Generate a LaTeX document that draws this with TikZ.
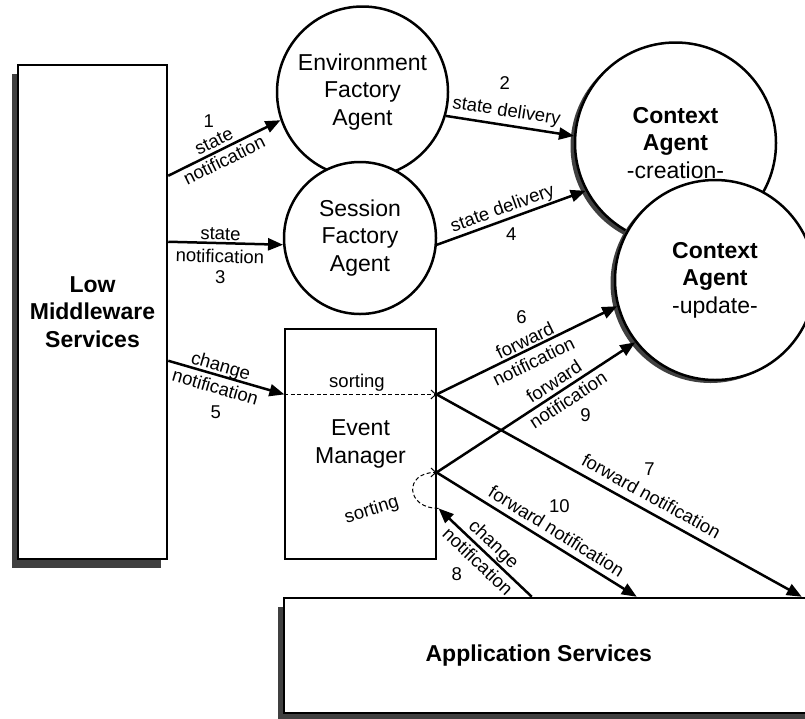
\documentclass[tikz,border=0pt]{standalone}
\usepackage{fontspec}
\setmainfont{Liberation Sans}
\usetikzlibrary{arrows.meta,shadows,calc}

\begin{document}
\begin{tikzpicture}[x=1pt,y=-1pt,
  thickline/.style={line width=2.5pt},
  flow/.style={thickline, -{Triangle[length=15pt,width=12pt]}},
  sortpath/.style={line width=1pt, dash pattern=on 4pt off 2.5pt,
    -{Straight Barb[length=5pt,width=9pt,line width=1pt]}},
  lab/.style={font=\fontsize{18.5}{21}\selectfont, inner sep=0pt},
  bigtext/.style={font=\fontsize{23}{27.5}\selectfont, align=center},
  agent/.style={circle, draw, thickline, fill=white, bigtext, inner sep=0pt},
  ctx/.style={agent, drop shadow={shadow xshift=-4.5pt, shadow yshift=-3pt,
    fill=black!75, opacity=1}},
  service/.style={rectangle, draw, thickline, fill=white, inner sep=0pt,
    drop shadow={shadow xshift=-6pt, shadow yshift=-9pt, fill=black!75, opacity=1}},
  manager/.style={rectangle, draw, line width=1.2pt, fill=white, inner sep=0pt, bigtext}
]
\useasboundingbox (0,0) rectangle (805,718);
\clip (0,0) rectangle (805,718);

% agents
\node[agent, minimum size=171pt] (env) at (362.5,92) {Environment\\Factory\\Agent};
\node[agent, minimum size=152pt] (ses) at (360,238) {Session\\Factory\\Agent};
\node[ctx, minimum size=201pt] (cac) at (675.5,143) {\textbf{Context}\\\textbf{Agent}\\-creation-};
\node[ctx, minimum size=200pt] (cau) at (715,280) {\textbf{Context}\\\textbf{Agent}\\-update-};

% services and event manager
\node[service, minimum width=149pt, minimum height=494pt, bigtext, font=\bfseries\fontsize{23}{27.5}\selectfont]
  (lms) at (92.5,312) {Low\\Middleware\\Services};
\node[manager, minimum width=151pt, minimum height=230pt] (em) at (360.5,444) {Event\\Manager};
\node[service, minimum width=546pt, minimum height=115pt] (app) at (557,655.5) {};
\node[bigtext, font=\bfseries\fontsize{23}{27.5}\selectfont] (apptxt) at ($(app.west)+(256,0)$) {Application Services};

% ports
\coordinate (in1) at ($(lms.north east)+(0,112)$);
\coordinate (in3) at ($(lms.north east)+(0,178)$);
\coordinate (in5) at ($(lms.north east)+(0,297)$);
\coordinate (sw) at ($(em.north west)+(0,66)$);
\coordinate (se) at ($(em.north east)+(0,66)$);
\coordinate (le) at ($(em.north east)+(0,144)$);
\coordinate (lr) at ($(em.north east)+(2,180)$);
\coordinate (a7) at ($(app.north west)+(519,0)$);
\coordinate (a10) at ($(app.north west)+(354,0)$);
\coordinate (a8) at ($(app.north west)+(249,0)$);

% state notifications
\draw[flow] (in1) -- (env.199)
  node[lab, pos=0.36, yshift=34.5pt] {1}
  node[lab, pos=0.449, sloped, yshift=10.5pt] {state}
  node[lab, pos=0.455, sloped, yshift=-10.5pt] {notification};
\draw[flow] (in3) -- (ses.185)
  node[lab, pos=0.453, sloped, yshift=9pt] {state}
  node[lab, pos=0.453, sloped, yshift=-13pt] {notification}
  node[lab, pos=0.453, yshift=-34pt] {3};

% state deliveries
\draw[flow] (env.-16) -- (cac.176)
  node[lab, pos=0.457, sloped, yshift=13.4pt] {state delivery}
  node[lab, pos=0.46, yshift=42pt] {2};
\draw[flow] (ses.-5) -- (cac.208)
  node[lab, pos=0.467, sloped, yshift=10.9pt] {state delivery}
  node[lab, pos=0.5, yshift=-16.5pt] {4};

% change notification into the event manager
\draw[flow] (in5) -- (sw)
  node[lab, pos=0.43, sloped, yshift=8.5pt] {change}
  node[lab, pos=0.435, sloped, yshift=-12pt] {notification}
  node[lab, pos=0.41, yshift=-37.5pt] {5};
\draw[sortpath] (sw) -- (se) node[lab, pos=0.477, yshift=12pt] {sorting};

% forwarded notifications
\draw[flow] (se) -- (cau.195)
  node[lab, pos=0.512, sloped, yshift=9.8pt] {forward}
  node[lab, pos=0.506, sloped, yshift=-12.7pt] {notification}
  node[lab, pos=0.47, yshift=36pt] {6};
\draw[flow] (se) -- (a7)
  node[lab, pos=0.568, sloped, yshift=15.3pt] {forward notification}
  node[lab, pos=0.583, yshift=43pt] {7};
\draw[flow] (le) -- (cau.218)
  node[lab, pos=0.623, sloped, yshift=11.8pt] {forward}
  node[lab, pos=0.630, sloped, yshift=-11.2pt] {notification}
  node[lab, pos=0.75, yshift=-40pt] {9};
\draw[flow] (le) -- (a10)
  node[lab, pos=0.564, sloped, yshift=13.5pt] {forward notification}
  node[lab, pos=0.614, yshift=43pt] {10};

% change notification from the applications
\draw[flow] (a8) -- (lr)
  node[lab, pos=0.497, sloped, yshift=11pt] {change}
  node[lab, pos=0.494, sloped, yshift=-11.3pt] {notification}
  node[lab, pos=0.576, xshift=-21.3pt, yshift=-28.3pt] {8};
\draw[sortpath] (lr) .. controls +(-33,0) and +(-33,0) .. (le)
  node[lab, pos=0.5, xshift=-41pt, yshift=-20pt, rotate=17] {sorting};
\end{tikzpicture}
\end{document}
